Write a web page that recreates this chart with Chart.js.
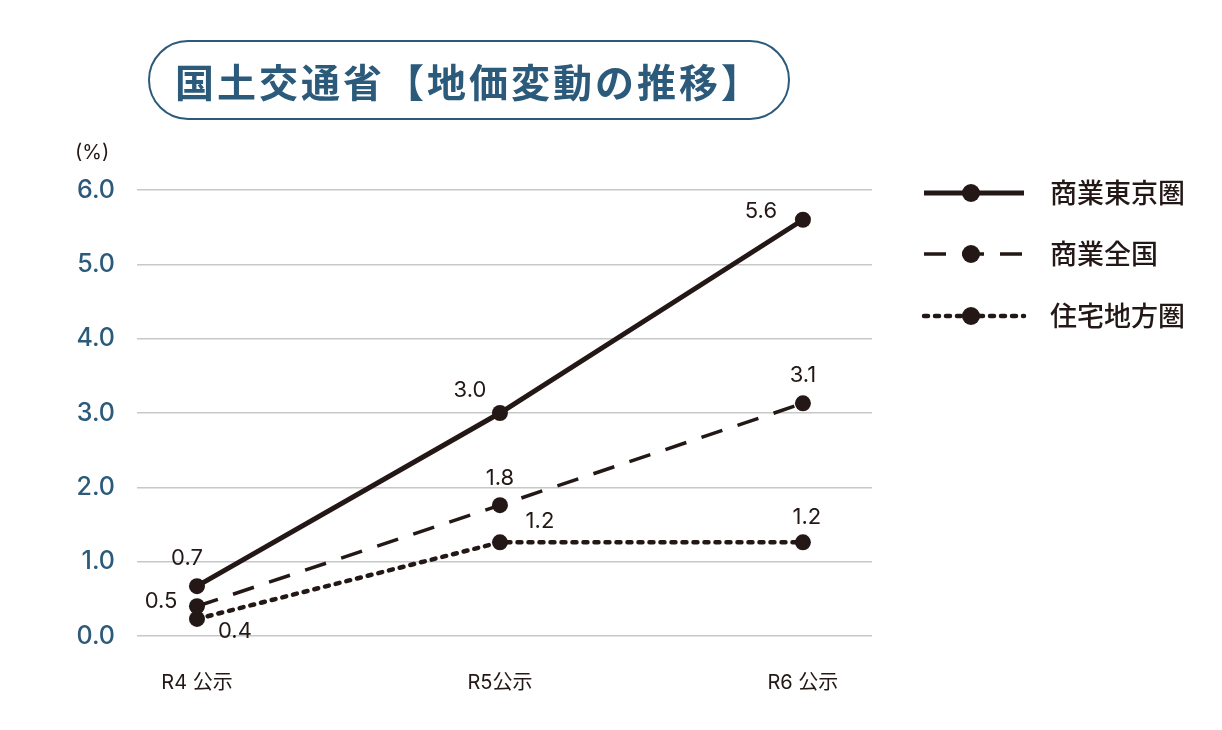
<!DOCTYPE html>
<html lang="ja">
<head>
<meta charset="utf-8">
<script src="https://cdn.jsdelivr.net/npm/chart.js@4/dist/chart.umd.min.js"></script>
<style>
  html, body { margin: 0; padding: 0; background: #fff; }
  #wrap { position: relative; width: 1222px; height: 730px; }
  #title {
    position: absolute; left: 148px; top: 40px; width: 638px; height: 76px;
    border: 2px solid #2b5a7a; border-radius: 40px; box-sizing: content-box;
    display: flex; align-items: center; justify-content: center;
    font-family: "Noto Sans CJK JP", sans-serif; font-weight: 700;
    font-size: 39px; color: #2b5a7a; letter-spacing: 3px;
  }
  #unit {
    position: absolute; left: 75px; top: 140px;
    font-family: Inter, sans-serif; font-size: 20px; color: #231815;
  }
</style>
</head>
<body>
<div id="wrap">
  <canvas id="chart" width="1222" height="730"></canvas>
  <div id="title">国土交通省【地価変動の推移】</div>
  <div id="unit">(%)</div>
</div>
<script>
const categories = ["R4 公示", "R5公示", "R6 公示"];
const seriesNames = ["商業東京圏", "商業全国", "住宅地方圏"];
// plotted positions
const tokyoCommercial = [0.67, 3.0, 5.6];
const nationalCommercial = [0.4, 1.76, 3.13];
const regionalResidential = [0.23, 1.26, 1.26];
// printed value labels
const tokyoLabels = ["0.7", "3.0", "5.6"];
const nationalLabels = ["0.5", "1.8", "3.1"];
const regionalLabels = ["0.4", "1.2", "1.2"];
const yTicks = [0, 1, 2, 3, 4, 5, 6];

const INK = "#231815";
const BLUE = "#2b5a7a";
const FONT = '"Noto Sans CJK JP", sans-serif';
const NUMFONT = 'Inter, "Noto Sans CJK JP", sans-serif';

// label offsets from each point (dx, dy), per dataset
const labelOffsets = [
  [[-10, -28], [-30, -23], [-42, -8]],
  [[-36, -5], [0, -27], [0, -28]],
  [[38, 12], [40, -21], [4, -25]],
];

const valueLabels = {
  id: "valueLabels",
  afterDatasetsDraw(chart) {
    const ctx = chart.ctx;
    const all = [tokyoLabels, nationalLabels, regionalLabels];
    ctx.save();
    ctx.font = "22px " + NUMFONT;
    ctx.fillStyle = INK;
    ctx.textAlign = "center";
    ctx.textBaseline = "middle";
    chart.data.datasets.forEach((ds, i) => {
      chart.getDatasetMeta(i).data.forEach((pt, j) => {
        const [dx, dy] = labelOffsets[i][j];
        ctx.fillText(all[i][j], pt.x + dx, pt.y + dy);
      });
    });
    ctx.restore();
  },
};

const sideLegend = {
  id: "sideLegend",
  afterDraw(chart) {
    const ctx = chart.ctx;
    const rows = [193, 254, 316];
    ctx.save();
    chart.data.datasets.forEach((ds, i) => {
      const y = rows[i];
      ctx.strokeStyle = INK;
      ctx.lineWidth = ds.borderWidth;
      ctx.lineCap = ds.borderCapStyle || "butt";
      ctx.setLineDash(ds.borderDash || []);
      ctx.beginPath();
      ctx.moveTo(924, y);
      ctx.lineTo(1024, y);
      ctx.stroke();
      ctx.setLineDash([]);
      ctx.fillStyle = INK;
      ctx.beginPath();
      ctx.arc(971, y, 9, 0, Math.PI * 2);
      ctx.fill();
      ctx.font = "500 27px " + FONT;
      ctx.textAlign = "left";
      ctx.textBaseline = "middle";
      ctx.fillText(ds.label, 1050, y);
    });
    ctx.restore();
  },
};

function makeSeries(label, values, width, dash, cap) {
  return {
    label,
    data: values.map((v, i) => ({ x: i, y: v })),
    borderColor: INK,
    backgroundColor: INK,
    borderWidth: width,
    borderDash: dash,
    borderCapStyle: cap,
    pointRadius: 8,
    pointHoverRadius: 8,
    pointBackgroundColor: INK,
    pointBorderWidth: 0,
    tension: 0,
  };
}

new Chart(document.getElementById("chart"), {
  type: "line",
  data: {
    datasets: [
      makeSeries(seriesNames[0], tokyoCommercial, 5, [], "butt"),
      makeSeries(seriesNames[1], nationalCommercial, 3.5, [22, 16], "butt"),
      makeSeries(seriesNames[2], regionalResidential, 4.5, [4, 7], "round"),
    ],
  },
  options: {
    responsive: false,
    animation: false,
    events: [],
    layout: { padding: { top: 190, right: 350, left: 0, bottom: 0 } },
    plugins: { legend: { display: false }, tooltip: { enabled: false } },
    scales: {
      x: {
        type: "linear",
        min: -0.198,
        max: 2.228,
        afterBuildTicks(scale) {
          scale.ticks = categories.map((c, i) => ({ value: i }));
        },
        afterFit(scale) { scale.height = 94; },
        grid: { display: false },
        border: { display: false },
        ticks: {
          padding: 27,
          color: INK,
          font: { family: NUMFONT, size: 20 },
          callback: (v) => categories[v],
        },
      },
      y: {
        min: 0,
        max: 6,
        afterBuildTicks(scale) {
          scale.ticks = yTicks.map((v) => ({ value: v }));
        },
        afterFit(scale) { scale.width = 137; },
        grid: { color: "#c8c8c8", lineWidth: 1.5, drawTicks: false },
        border: { display: false },
        ticks: {
          padding: 22,
          color: BLUE,
          font: { family: NUMFONT, size: 25, weight: "500" },
          callback: (v) => v.toFixed(1),
        },
      },
    },
  },
  plugins: [valueLabels, sideLegend],
});
</script>
</body>
</html>
